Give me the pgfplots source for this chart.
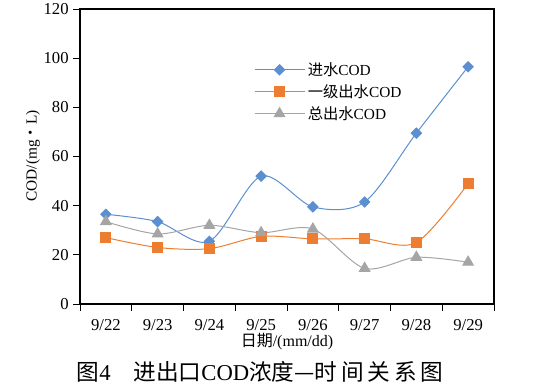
\documentclass[border=0pt]{standalone}
\usepackage{pgfplots}
\pgfplotsset{compat=1.18}
\usepackage{fontspec}
\setmainfont{Liberation Serif}
\newfontfamily\cjk{Noto Sans CJK SC}
\definecolor{cblue}{HTML}{5B8FD0}
\definecolor{corange}{HTML}{ED7D31}
\definecolor{cgray}{HTML}{A5A5A5}
\begin{document}
\begin{tikzpicture}
\path[use as bounding box] (0,0) rectangle (405pt,291.75pt);
\begin{axis}[
  at={(60pt,63.75pt)}, anchor=south west,
  scale only axis, width=310.5pt, height=221.25pt,
  xmin=0, xmax=8, ymin=0, ymax=120,
  xtick={0.5,1.5,...,7.5},
  xticklabels={9/22,9/23,9/24,9/25,9/26,9/27,9/28,9/29},
  minor xtick={0,1,...,8},
  ytick={0,20,...,120},
  major x tick style={draw=none},
  tick align=outside, tick pos=left,
  major tick length=5pt, minor tick length=5pt,
  tick style={black, line width=0.7pt},
  axis line style={black, line width=0.8pt},
  ticklabel style={font=\fontsize{12.5}{14}\selectfont},
  /pgf/number format/assume math mode=true,
  xticklabel style={yshift=-3pt},
  legend style={draw=none, fill=none, at={(0.41,0.838)}, anchor=north west,
    font=\fontsize{11.5}{13}\selectfont, row sep=1.3pt,
    /tikz/every even column/.append style={column sep=2pt}},
  legend cell align=left,
  legend image code/.code={\draw[mark repeat=2,mark phase=2] plot coordinates {(0cm,0cm) (0.66cm,0cm) (1.32cm,0cm)};},
]
\addplot[cblue, line width=0.75pt, smooth, tension=0.5, mark=square*, mark size=2.7pt, mark options={fill=cblue, draw=cblue, solid, rotate=45}]
  coordinates {(0.5,36.5) (1.5,33.5) (2.5,25.5) (3.5,52) (4.5,39.5) (5.5,41.5) (6.5,69.5) (7.5,96.5)};
\addlegendentry{{\cjk 进水}COD}
\addplot[corange, line width=0.75pt, smooth, tension=0.5, mark=square*, mark size=3.7pt, mark options={fill=corange, draw=corange, solid}]
  coordinates {(0.5,27) (1.5,23) (2.5,22.5) (3.5,27.5) (4.5,26.5) (5.5,26.5) (6.5,25) (7.5,49)};
\addlegendentry{{\cjk 一级出水}COD}
\addplot[cgray, line width=0.75pt, smooth, tension=0.5, mark=triangle*, mark size=4.5pt, mark options={fill=cgray, draw=cgray, solid}]
  coordinates {(0.5,33.5) (1.5,28.5) (2.5,32) (3.5,29) (4.5,30.5) (5.5,14.5) (6.5,19) (7.5,17)};
\addlegendentry{{\cjk 总出水}COD}
\end{axis}
\node[rotate=90, font=\fontsize{11.5}{13}\selectfont] at (24.75pt,174.75pt) {COD/(mg{\cjk ・}L)};
\node[font=\fontsize{12}{14}\selectfont] at (215.25pt,35.25pt) {{\cjk 日期}/(mm/dd)};
\node[font=\fontsize{17}{20}\selectfont] at (195pt,12.75pt) {{\cjk 图}4\quad{\cjk 进出口}COD{\cjk 浓度—时\,间\,关\,系\,图}};
\end{tikzpicture}
\end{document}
